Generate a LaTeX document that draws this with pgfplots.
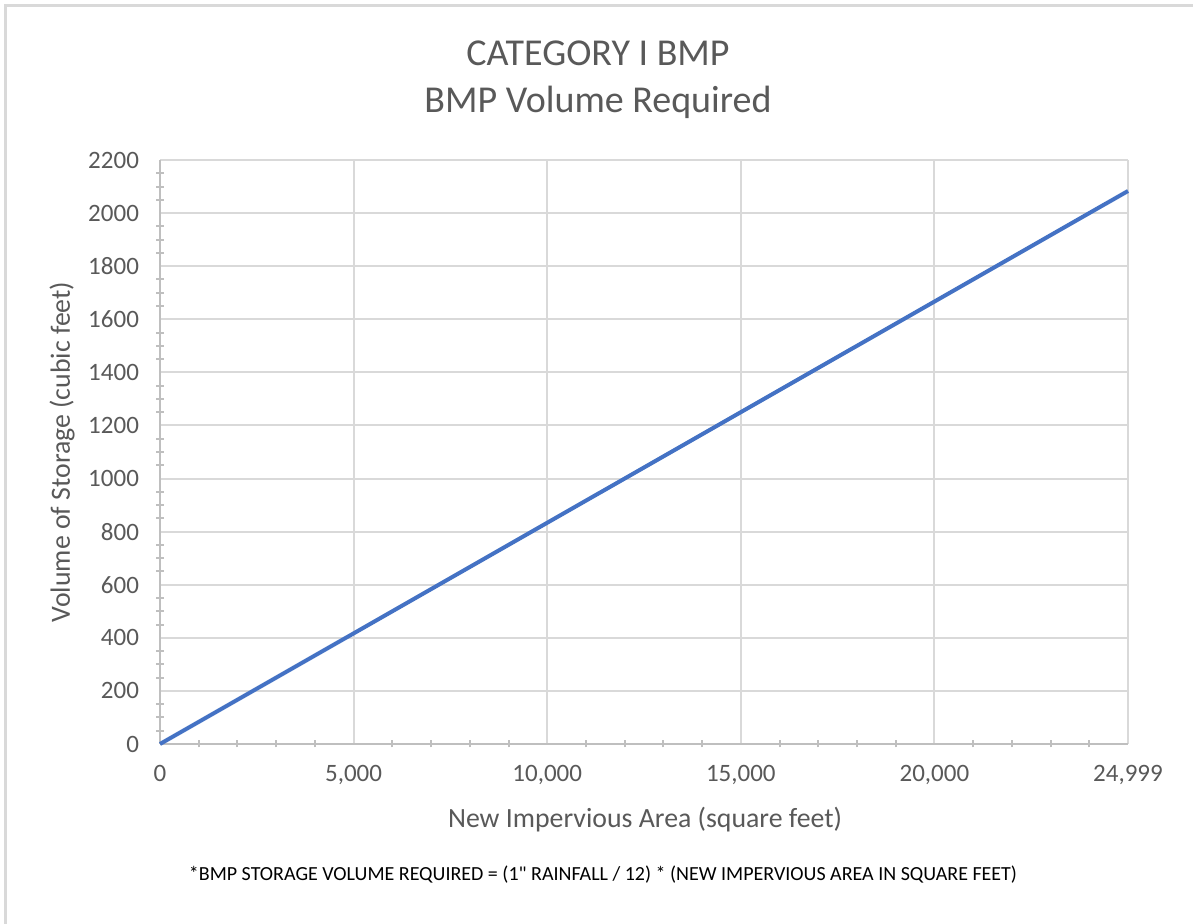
\documentclass[border=0pt]{standalone}
\usepackage{pgfplots}
\pgfplotsset{compat=1.18}
\usepackage{fontspec}
\setmainfont{Carlito}
\newfontfamily\fnfont[Ligatures=TeXOff]{Carlito}
\definecolor{txt}{HTML}{595959}
\definecolor{gridc}{HTML}{D9D9D9}
\definecolor{axc}{HTML}{BFBFBF}
\definecolor{line}{HTML}{4472C4}
\begin{document}
\begin{tikzpicture}
\useasboundingbox (0,0) rectangle (596.5pt,462pt);
\fill[white] (0,0) rectangle (596.5pt,462pt);
\draw[gridc, line width=1.5pt] (2.5pt,0) -- (2.5pt,459pt) -- (596.5pt,459pt);
\begin{axis}[
  at={(80pt,90pt)}, anchor=south west,
  scale only axis, width=484pt, height=292pt,
  xmin=0, xmax=24999, ymin=0, ymax=2200,
  axis x line=bottom, axis y line=left,
  axis line style={axc, line width=1pt, -},
  xtick={0,5000,10000,15000,20000,24999},
  minor xtick={1000,2000,3000,4000,6000,7000,8000,9000,11000,12000,13000,14000,16000,17000,18000,19000,21000,22000,23000,24000},
  ytick={0,200,...,2200},
  minor ytick={50,100,150,250,300,350,450,500,550,650,700,750,850,900,950,1050,1100,1150,1250,1300,1350,1450,1500,1550,1650,1700,1750,1850,1900,1950,2050,2100,2150},
  major tick length=0pt, minor tick length=3.5pt,
  minor tick style={axc, line width=1pt},
  xmajorgrids, ymajorgrids,
  major grid style={gridc, line width=1pt},
  /pgf/number format/assume math mode=true,
  x tick label style={/pgf/number format/1000 sep={,}, font=\fontsize{12.5}{14}\selectfont, text=txt, yshift=-7pt},
  y tick label style={/pgf/number format/1000 sep={}, font=\fontsize{12.5}{14}\selectfont, text=txt, xshift=-7pt},
  scaled ticks=false,
  clip=false,
]
\addplot[line, line width=2pt] coordinates {(0,0) (24999,2083.25)};
\end{axis}
\node[text=txt, font=\fontsize{19}{22}\selectfont] at (299pt,435.5pt) {CATEGORY I BMP};
\node[text=txt, font=\fontsize{19}{22}\selectfont] at (299pt,411pt) {BMP Volume Required};
\node[text=txt, font=\fontsize{13.9}{16}\selectfont] at (322.5pt,52pt) {New Impervious Area (square feet)};
\node[text=txt, font=\fontsize{13.9}{16}\selectfont, rotate=90] at (31pt,236pt) {Volume of Storage (cubic feet)};
\node[text=black, font=\fnfont\fontsize{10}{12}\selectfont] at (301.5pt,24.5pt) {*BMP STORAGE VOLUME REQUIRED = (1" RAINFALL / 12) * (NEW IMPERVIOUS AREA IN SQUARE FEET)};
\end{tikzpicture}
\end{document}
